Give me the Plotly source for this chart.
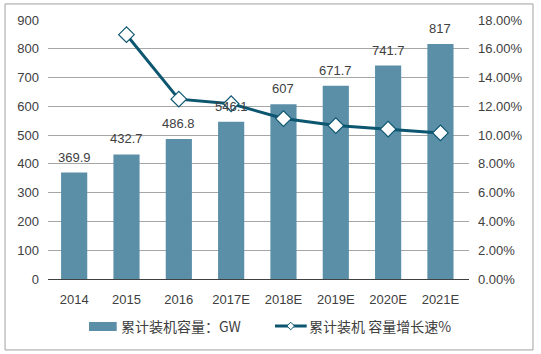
import plotly.graph_objects as go

categories = ["2014", "2015", "2016", "2017E", "2018E", "2019E", "2020E", "2021E"]
capacity = [369.9, 432.7, 486.8, 546.1, 607, 671.7, 741.7, 817]
growth_cats = ["2015", "2016", "2017E", "2018E", "2019E", "2020E", "2021E"]
growth = [16.98, 12.5, 12.18, 11.15, 10.66, 10.42, 10.15]
left_ticks = [0, 100, 200, 300, 400, 500, 600, 700, 800, 900]
right_ticks = [0, 2, 4, 6, 8, 10, 12, 14, 16, 18]
bar_name = "累计装机容量：GW"
line_name = "累计装机 容量增长速%"

FONT = "Liberation Sans, Arial, sans-serif"
CJK = "Noto Sans CJK SC, Liberation Sans, sans-serif"
TXT = "#404040"
BAR = "#5B8FA8"
LINE = "#0D5670"

fig = go.Figure()
fig.add_trace(go.Bar(
    x=categories, y=capacity, name=bar_name,
    marker=dict(color=BAR, line=dict(width=0)),
    showlegend=False,
))
fig.add_trace(go.Scatter(
    x=growth_cats, y=growth, name=line_name, yaxis="y2",
    mode="lines+markers",
    line=dict(color=LINE, width=3),
    marker=dict(symbol="diamond", size=12, color="white",
                line=dict(color=LINE, width=1.2)),
    showlegend=False,
))

annotations = []
for i, v in enumerate(capacity):
    annotations.append(dict(x=i, y=v, xref="x", yref="y", text=f"{v:g}",
                            showarrow=False, yanchor="bottom", yshift=6,
                            font=dict(size=13, color=TXT, family=FONT)))

# manual legend
def px_x(p):
    return (p - 48) / 421

def px_y(p):
    return (279 - p) / 259

ly = px_y(326)
annotations.append(dict(x=px_x(119), y=ly, xref="paper", yref="paper", text=bar_name,
                        showarrow=False, xanchor="left", yanchor="middle",
                        font=dict(size=14, color=TXT, family=CJK)))
annotations.append(dict(x=px_x(307), y=ly, xref="paper", yref="paper", text=line_name,
                        showarrow=False, xanchor="left", yanchor="middle",
                        font=dict(size=14, color=TXT, family=CJK)))

dx = 3.8 / 421
dy = 3.8 / 259
cx = px_x(290.7)
shapes = [
    dict(type="rect", xref="paper", yref="paper",
         x0=-0.102, x1=1.152, y0=-0.274, y1=1.062,
         line=dict(color="#A0A0A0", width=1), fillcolor="rgba(0,0,0,0)", layer="below"),
    dict(type="rect", xref="paper", yref="paper",
         x0=px_x(89), x1=px_x(116.7), y0=px_y(331), y1=px_y(322),
         line=dict(width=0), fillcolor=BAR),
    dict(type="line", xref="paper", yref="paper",
         x0=px_x(275), x1=px_x(306.7), y0=ly, y1=ly,
         line=dict(color=LINE, width=3)),
    dict(type="path", xref="paper", yref="paper",
         path=f"M {cx-dx},{ly} L {cx},{ly+dy} L {cx+dx},{ly} L {cx},{ly-dy} Z",
         line=dict(color=LINE, width=1), fillcolor="white"),
]

fig.update_layout(
    width=541, height=354,
    margin=dict(l=48, r=72, t=20, b=75),
    paper_bgcolor="white", plot_bgcolor="white",
    font=dict(family=FONT, size=13, color=TXT),
    bargap=0.5,
    showlegend=False,
    xaxis=dict(type="category", categoryarray=categories, categoryorder="array",
               showgrid=False, showline=True, linecolor="#404040",
               linewidth=1, ticks="", ticklabelstandoff=8, tickfont=dict(size=13, color=TXT)),
    yaxis=dict(range=[0, 900], tickvals=left_ticks, showgrid=True, gridcolor="#A6A6A6",
               gridwidth=1, zeroline=False, showline=False, ticks="", ticklabelstandoff=8,
               tickfont=dict(size=13, color=TXT)),
    yaxis2=dict(range=[0, 18], tickvals=right_ticks,
                ticktext=[f"{v:.2f}%" for v in right_ticks],
                overlaying="y", side="right", showgrid=False, zeroline=False,
                showline=False, ticks="", ticklabelstandoff=8,
                tickfont=dict(size=13, color=TXT)),
    annotations=annotations,
    shapes=shapes,
)

fig.write_html("out.html")
